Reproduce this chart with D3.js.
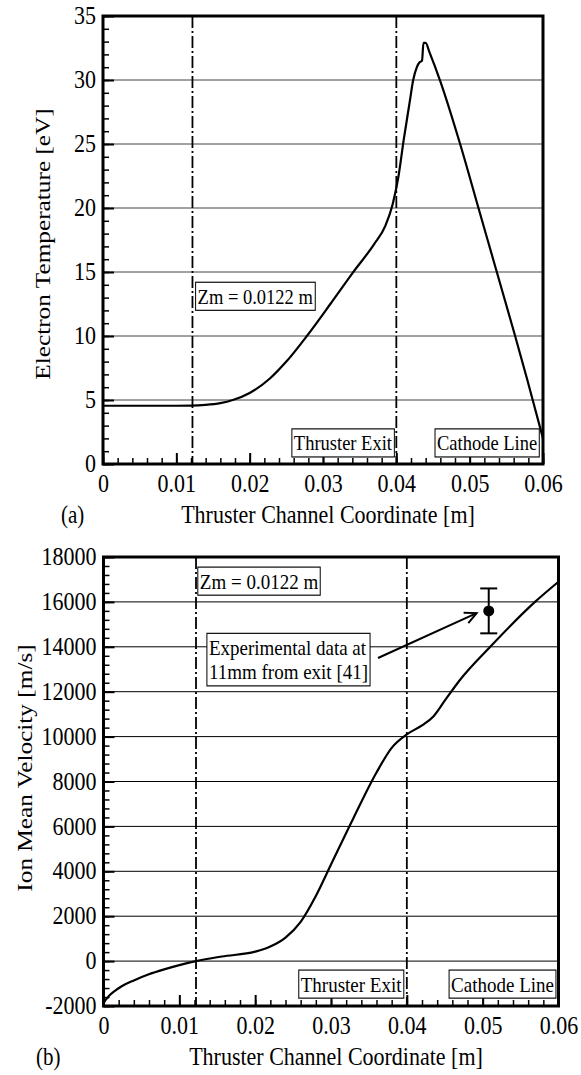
<!DOCTYPE html>
<html>
<head>
<meta charset="utf-8">
<script src="https://cdn.jsdelivr.net/npm/d3@7"></script>
<style>
body { margin: 0; background: #fff; }
text { font-family: 'Liberation Serif', 'Times New Roman', serif; fill: #000; }
</style>
</head>
<body>
<div id="chart"></div>
<script>
// channel coordinate ticks and marker lines (m)
const xTicks = [0, 0.01, 0.02, 0.03, 0.04, 0.05, 0.06];
const markerLines = [0.0122, 0.04, 0.06];

// (a) electron temperature [eV]
const tempX = [0, 0.005, 0.010, 0.012, 0.014, 0.016, 0.0177, 0.020, 0.0228, 0.025, 0.0278, 0.031, 0.034, 0.037, 0.0385, 0.0395, 0.0403, 0.041, 0.0418, 0.0423, 0.0428, 0.0432, 0.0435, 0.0437, 0.0440, 0.0445, 0.046, 0.0487, 0.0512, 0.0537, 0.0562, 0.0578, 0.060];
const tempY = [4.55, 4.55, 4.55, 4.56, 4.62, 4.76, 5.0, 5.55, 6.7, 8.0, 10.0, 12.5, 14.9, 17.2, 18.6, 20.3, 22.5, 25.3, 28.2, 30.0, 31.0, 31.4, 31.5, 32.9, 32.9, 32.2, 29.9, 25.0, 20.0, 15.0, 10.0, 6.7, 2.0];
const tempTicks = [0, 5, 10, 15, 20, 25, 30, 35];

// (b) ion mean velocity [m/s]
const velX = [0, 0.0003, 0.0007, 0.0015, 0.0024, 0.004, 0.0059, 0.008, 0.010, 0.0122, 0.0156, 0.020, 0.022, 0.024, 0.026, 0.028, 0.030, 0.033, 0.036, 0.038, 0.040, 0.042, 0.0435, 0.045, 0.047, 0.051, 0.0569, 0.060];
const velY = [-1880, -1720, -1560, -1330, -1120, -860, -600, -370, -180, 0, 205, 420, 650, 1050, 1750, 2900, 4300, 6400, 8400, 9500, 10100, 10500, 10900, 11600, 12520, 14000, 16000, 16900];
const velTicks = [-2000, 0, 2000, 4000, 6000, 8000, 10000, 12000, 14000, 16000, 18000];

// experimental point
const expX = [0.0508];
const expY = [15600];
const expErr = [1000];

const W = 581;
const H = 1075;
const K = 1.15; // text in the figure is drawn a bit tall

const svg = d3.select('#chart').append('svg')
	.attr('width', W)
	.attr('height', H);

svg.append('rect')
	.attr('width', W)
	.attr('height', H)
	.attr('fill', '#fff');

const boxLabel = (g, lines, px, py, anchor, vAlign, size) => {
	const lg = g.append('g')
		.attr('transform', `translate(${px},${py}) scale(1,${K})`);
	const t = lg.append('text')
		.attr('font-size', size)
		.attr('text-anchor', anchor);
	lines.forEach((s, i) => {
		t.append('tspan')
			.attr('x', 0)
			.attr('y', i * size * 1.12)
			.text(s);
	});
	const b = t.node().getBBox();
	const pad = 2;
	const dy = vAlign === 'top' ? (-b.y + pad) : (-(b.y + b.height) - pad);
	t.attr('transform', `translate(0,${dy})`);
	lg.insert('rect', 'text')
		.attr('x', b.x - pad)
		.attr('y', b.y + dy - pad)
		.attr('width', b.width + pad * 2)
		.attr('height', b.height + pad * 2)
		.attr('fill', '#fff')
		.attr('stroke', '#000')
		.attr('stroke-width', 1);
};

const drawPanel = (cfg) => {
	const g = svg.append('g');
	const x = d3.scaleLinear().domain([0, 0.06]).range([cfg.left, cfg.right]);
	const y = d3.scaleLinear().domain(cfg.yDomain).range([cfg.bottom, cfg.top]);

	// horizontal grid
	g.selectAll('.grid')
		.data(cfg.grid)
		.join('line')
		.attr('x1', cfg.left)
		.attr('x2', cfg.right)
		.attr('y1', d => y(d))
		.attr('y2', d => y(d))
		.attr('stroke', cfg.gridColor)
		.attr('stroke-width', 1);

	// dash-dot marker lines
	g.selectAll('.mark')
		.data(markerLines)
		.join('line')
		.attr('x1', d => x(d))
		.attr('x2', d => x(d))
		.attr('y1', cfg.top)
		.attr('y2', cfg.bottom)
		.attr('stroke', '#000')
		.attr('stroke-width', 1.8)
		.attr('stroke-dasharray', '12,3,2,3');

	// minor ticks
	g.append('g')
		.attr('transform', `translate(${cfg.left},0)`)
		.call(d3.axisLeft(y).tickValues(d3.range(cfg.yDomain[0], cfg.yDomain[1] + 1e-9, cfg.yMinor)).tickSize(-6).tickFormat(''))
		.call(a => a.select('.domain').remove())
		.selectAll('line').attr('stroke-width', 1.5);
	g.append('g')
		.attr('transform', `translate(0,${cfg.bottom})`)
		.call(d3.axisBottom(x).tickValues(d3.range(0, 0.0601, 0.002)).tickSize(-6).tickFormat(''))
		.call(a => a.select('.domain').remove())
		.selectAll('line').attr('stroke-width', 1.5);

	// major ticks + labels
	const yAxis = g.append('g')
		.attr('transform', `translate(${cfg.left},0)`)
		.call(d3.axisLeft(y).tickValues(cfg.yTicks).tickFormat(d => String(d)).tickSizeInner(-11).tickSizeOuter(0).tickPadding(7))
		.call(a => a.select('.domain').remove());
	yAxis.selectAll('line').attr('stroke-width', 2);
	yAxis.selectAll('text')
		.attr('font-size', 22)
		.attr('font-family', "'Liberation Serif', serif")
		.attr('x', -7)
		.attr('dy', '0.3em')
		.attr('transform', `scale(1,${K})`);

	const xAxis = g.append('g')
		.attr('transform', `translate(0,${cfg.bottom})`)
		.call(d3.axisBottom(x).tickValues(xTicks).tickFormat(d => String(d)).tickSizeInner(-11).tickSizeOuter(0).tickPadding(8))
		.call(a => a.select('.domain').remove());
	xAxis.selectAll('line').attr('stroke-width', 2);
	xAxis.selectAll('text')
		.attr('font-size', 22)
		.attr('font-family', "'Liberation Serif', serif")
		.attr('y', 8.5)
		.attr('transform', `scale(1,${K})`);

	// curve
	g.append('path')
		.datum(cfg.xs.map((d, i) => [d, cfg.ys[i]]))
		.attr('fill', 'none')
		.attr('stroke', '#000')
		.attr('stroke-width', 2.2)
		.attr('d', d3.line().x(d => x(d[0])).y(d => y(d[1])).curve(d3.curveMonotoneX));

	// frame
	g.append('rect')
		.attr('x', cfg.left)
		.attr('y', cfg.top)
		.attr('width', cfg.right - cfg.left)
		.attr('height', cfg.bottom - cfg.top)
		.attr('fill', 'none')
		.attr('stroke', '#000')
		.attr('stroke-width', 3);

	// titles
	g.append('text')
		.attr('transform', `translate(${cfg.yTitleX},${cfg.yTitleY}) scale(1,${K}) rotate(-90)`)
		.attr('text-anchor', 'middle')
		.attr('font-size', 22)
		.text(cfg.yTitle);
	g.append('text')
		.attr('transform', `translate(${(cfg.left + cfg.right) / 2 + 5},${cfg.bottom + 59}) scale(1,${K})`)
		.attr('text-anchor', 'middle')
		.attr('font-size', 22)
		.text('Thruster Channel Coordinate [m]');
	g.append('text')
		.attr('transform', `translate(${cfg.letterX},${cfg.bottom + 59}) scale(1,${K})`)
		.attr('font-size', 21)
		.text(cfg.letter);

	// boxed labels
	cfg.labels.forEach(l => {
		boxLabel(g, l.lines, x(l.x), y(l.y), l.anchor, l.v, l.size);
	});

	return { g, x, y };
};

const a = drawPanel({
	top: 16, bottom: 464, left: 103, right: 543,
	yDomain: [0, 35], yTicks: tempTicks, yMinor: 1,
	grid: tempTicks.slice(1, -1), gridColor: '#444',
	xs: tempX, ys: tempY,
	yTitle: 'Electron Temperature [eV]', yTitleX: 50, yTitleY: 244,
	letter: '(a)', letterX: 61,
	labels: [
		{ lines: ['Zm = 0.0122 m'], x: 0.0129, y: 14.2, anchor: 'start', v: 'top', size: 18.5 },
		{ lines: ['Thruster Exit'], x: 0.0394, y: 0.55, anchor: 'end', v: 'bottom', size: 18.5 },
		{ lines: ['Cathode Line'], x: 0.0592, y: 0.55, anchor: 'end', v: 'bottom', size: 18.5 }
	]
});

const b = drawPanel({
	top: 557, bottom: 1006, left: 103.5, right: 558.5,
	yDomain: [-2000, 18000], yTicks: velTicks, yMinor: 400,
	grid: velTicks.slice(1, -1), gridColor: '#000',
	xs: velX, ys: velY,
	yTitle: 'Ion Mean Velocity [m/s]', yTitleX: 32, yTitleY: 768,
	letter: '(b)', letterX: 36,
	labels: [
		{ lines: ['Zm = 0.0122 m'], x: 0.0127, y: 17550, anchor: 'start', v: 'top', size: 19 },
		{ lines: ['Experimental data at', '11mm from exit [41]'], x: 0.0139, y: 14600, anchor: 'start', v: 'top', size: 19 },
		{ lines: ['Thruster Exit'], x: 0.0393, y: -1650, anchor: 'end', v: 'bottom', size: 19 },
		{ lines: ['Cathode Line'], x: 0.0594, y: -1650, anchor: 'end', v: 'bottom', size: 19 }
	]
});

// experimental point with error bar
const ep = b.g.append('g');
expX.forEach((d, i) => {
	const cx = b.x(d);
	const y0 = b.y(expY[i] - expErr[i]);
	const y1 = b.y(expY[i] + expErr[i]);
	ep.append('line').attr('x1', cx).attr('x2', cx).attr('y1', y0).attr('y2', y1)
		.attr('stroke', '#000').attr('stroke-width', 2);
	[y0, y1].forEach(yy => {
		ep.append('line').attr('x1', cx - 8.5).attr('x2', cx + 8.5).attr('y1', yy).attr('y2', yy)
			.attr('stroke', '#000').attr('stroke-width', 2);
	});
	ep.append('circle').attr('cx', cx).attr('cy', b.y(expY[i])).attr('r', 5.5).attr('fill', '#000');
});

// arrow from label to point
const ax0 = b.x(0.0362), ay0 = b.y(13500);
const ax1 = b.x(0.0492), ay1 = b.y(15500);
const ang = Math.atan2(ay1 - ay0, ax1 - ax0);
const hl = 13;
const hw = 0.45;
b.g.append('line')
	.attr('x1', ax0).attr('y1', ay0).attr('x2', ax1).attr('y2', ay1)
	.attr('stroke', '#000').attr('stroke-width', 2);
b.g.append('path')
	.attr('d', `M${ax1 - hl * Math.cos(ang - hw)},${ay1 - hl * Math.sin(ang - hw)}L${ax1},${ay1}L${ax1 - hl * Math.cos(ang + hw)},${ay1 - hl * Math.sin(ang + hw)}`)
	.attr('fill', 'none')
	.attr('stroke', '#000')
	.attr('stroke-width', 2);
</script>
</body>
</html>
